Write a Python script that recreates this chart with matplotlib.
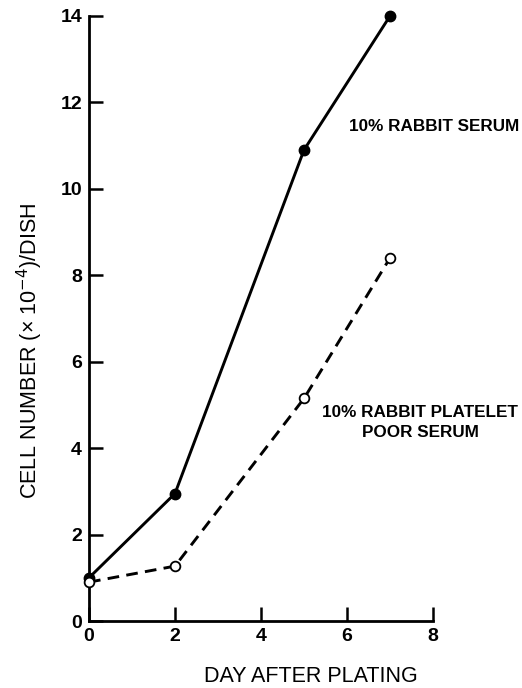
import matplotlib.pyplot as plt

# Growth curves: cell number per dish vs day after plating
days = [0, 2, 5, 7]
rabbit_serum = [1.0, 2.95, 10.9, 14.0]
platelet_poor_serum = [0.9, 1.27, 5.15, 8.4]

x_ticks = [0, 2, 4, 6, 8]
y_ticks = [0, 2, 4, 6, 8, 10, 12, 14]

label_font = ['Liberation Sans', 'DejaVu Sans']


def main():
    fig = plt.figure(figsize=(5.22, 6.88), dpi=100)
    W, H = 522, 688
    # axes: x 89..433 px, y 16..621 px
    ax = fig.add_axes([89 / W, 1 - 621 / H, (433 - 89) / W, (621 - 16) / H])

    ax.plot(days, rabbit_serum, color='black', lw=2.1, marker='o',
            ms=7.5, mfc='black', mec='black', clip_on=False, zorder=3)
    ax.plot(days, platelet_poor_serum, color='black', lw=2.1, ls=(0, (4, 2.5)),
            marker='o', ms=7, mfc='white', mec='black', mew=1.3,
            clip_on=False, zorder=4)

    ax.set_xlim(0, 8)
    ax.set_ylim(0, 14)
    ax.set_xticks(x_ticks)
    ax.set_yticks(y_ticks)

    for side in ('top', 'right'):
        ax.spines[side].set_visible(False)
    for side in ('left', 'bottom'):
        ax.spines[side].set_linewidth(2)

    ax.tick_params(direction='in', length=10, width=1.8, labelsize=14, pad=5)
    for lab in ax.get_xticklabels() + ax.get_yticklabels():
        lab.set_fontweight('bold')
        lab.set_family(label_font)

    fig.text(30 / W, 1 - 351 / H, 'CELL NUMBER (× 10$^{-4}$)/DISH',
             rotation=90, ha='center', va='center', fontsize=15.5,
             family=label_font)
    fig.text(311 / W, 1 - 677 / H, 'DAY AFTER PLATING',
             ha='center', va='center', fontsize=15.5, family=label_font)

    ax.text(6.05, 11.45, '10% RABBIT SERUM', family=label_font,
            fontweight='bold', fontsize=12.3, ha='left', va='center')
    ax.text(7.7, 4.6, '10% RABBIT PLATELET\nPOOR SERUM', family=label_font,
            fontweight='bold', fontsize=12.3, ha='center', va='center',
            multialignment='center', linespacing=1.4)

    fig.savefig('out.png', dpi=100)


if __name__ == "__main__":
    main()
